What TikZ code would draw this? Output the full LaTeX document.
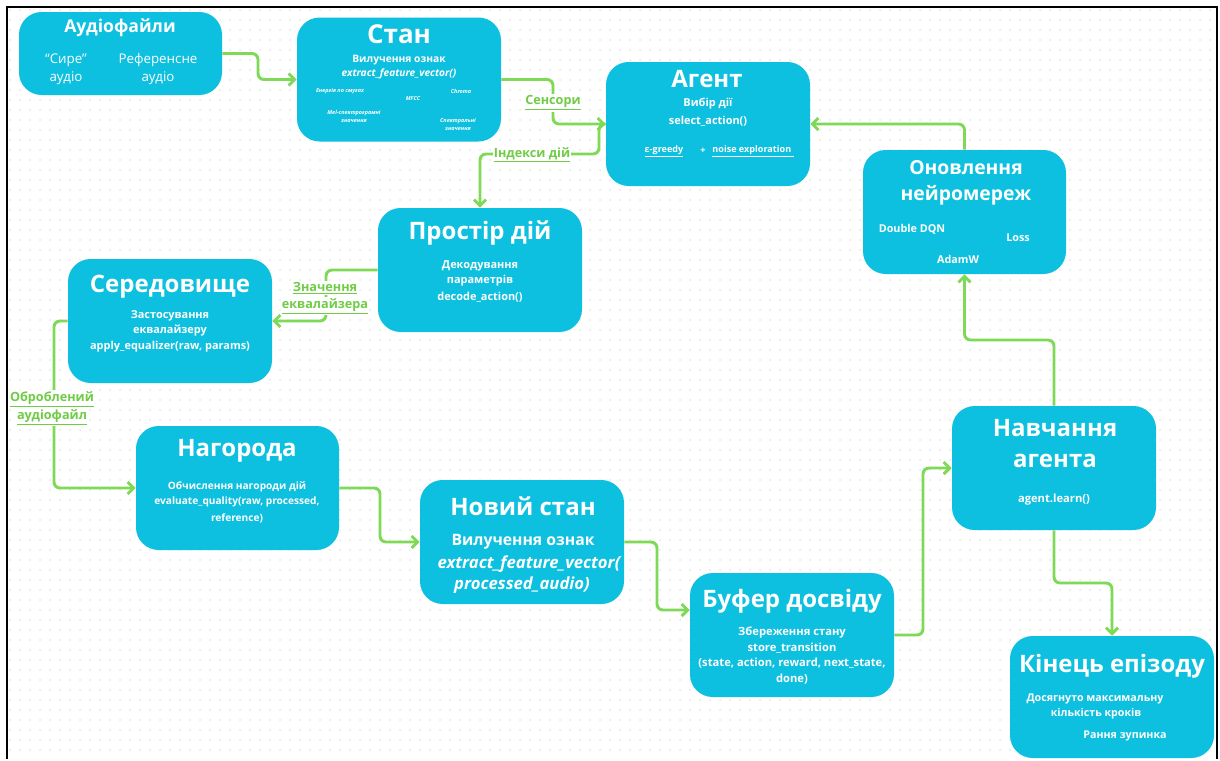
\documentclass[tikz,border=0pt]{standalone}
\usepackage{fontspec}
\setmainfont{Open Sans}
\usetikzlibrary{arrows.meta}
\definecolor{boxc}{RGB}{13,192,223}
\definecolor{linec}{RGB}{126,217,87}
\definecolor{labc}{RGB}{112,204,70}
\definecolor{dotc}{RGB}{222,222,222}
\begin{document}
\begin{tikzpicture}[x=0.75pt,y=-0.75pt,
  box/.style={fill=boxc, rounded corners=17pt, minimum width=153pt, minimum height=93pt, inner sep=0pt},
  ttl/.style={text=white, font=\bfseries\fontsize{18}{21}\selectfont, inner sep=0pt},
  body/.style={text=white, font=\bfseries\fontsize{8.2}{9}\selectfont, inner sep=0pt},
  tiny/.style={text=white, font=\bfseries\itshape\fontsize{4.1}{4.6}\selectfont, inner sep=0pt},
  conn/.style={draw=linec, line width=2.2pt, rounded corners=4.5pt, -{Straight Barb[length=4.5pt,width=9pt]}},
  lab/.style={text=labc, fill=white, font=\bfseries\fontsize{9.5}{11.5}\selectfont, inner sep=0.8pt},
  dotrow/.style={draw=dotc, line width=1.1pt, line cap=round, dash pattern=on 0.05pt off 7.45pt},
]
\useasboundingbox (0,0) rectangle (1220,760);
\fill[white] (0,0) rectangle (1220,760);
\foreach \j in {1,...,75}{\draw[dotrow] (10,\j*10) -- (1215,\j*10);}
\draw[line width=1.6pt] (7,759) -- (7,7) -- (1217,7) -- (1217,759);

% boxes
\node[box, minimum width=152.25pt, minimum height=62.25pt] (audio) at (120.5,53.5) {};
\node[box] (stan) at (399,79.5) {};
\node[box] (agent) at (708,124) {};
\node[box, minimum width=152.25pt] (update) at (964.5,212) {};
\node[box] (space) at (480,270) {};
\node[box] (env) at (170,321) {};
\node[box, minimum width=152.25pt] (reward) at (237.5,488) {};
\node[box] (newstate) at (522,542) {};
\node[box] (buffer) at (792,635) {};
\node[box] (learn) at (1054,468) {};
\node[box, minimum height=91.5pt] (end) at (1112,697) {};

% connectors
\path (buffer.west) ++(0,-25) coordinate (bufin);
\draw[conn] (audio.east) -- (258,53.5) |- (stan.west);
\draw[conn] (agent.west) -- (599,124) -- (599,154) -| (space.north);
\draw[conn] (stan.east) -- (553,79.5) |- (agent.west);
\draw[conn] (update.north) |- (agent.east);
\draw[conn] (learn.north) -- (1054,340) -| (update.south);
\draw[conn] (space.west) -- (326,270) |- (env.east);
\draw[conn] (env.west) -- (54,321) |- (reward.west);
\draw[conn] (reward.east) -- (380,488) |- (newstate.west);
\draw[conn] (newstate.east) -- (657,542) |- (bufin);
\draw[conn] (buffer.east) -- (923,635) |- (learn.west);
\draw[conn] (learn.south) -- (1054,583) -| (end.north);

% connector labels
\node[lab] (lsens) at (553,103) {\underline{Сенсори}};
\node[lab] (lidx) at (532,155) {\underline{Індекси дій}};
\node[lab] (leq1) at (325,288) {\underline{Значення}};
\node[lab] (leq2) at (325,306) {\underline{еквалайзера}};
\node[lab] (lob1) at (52,399) {\underline{Оброблений}};
\node[lab] (lob2) at (52,417) {\underline{аудіофайл}};

% Аудіофайли
\node[ttl, font=\bfseries\fontsize{13.2}{15}\selectfont] (t1) at (120,28) {Аудіофайли};
\node[text=white, font=\fontsize{10}{12}\selectfont, inner sep=0pt] (a1) at (66,60) {“Сире”};
\node[text=white, font=\fontsize{10}{12}\selectfont, inner sep=0pt] (a2) at (66,78) {аудіо};
\node[text=white, font=\fontsize{10}{12}\selectfont, inner sep=0pt] (a3) at (158,60) {Референсне};
\node[text=white, font=\fontsize{10}{12}\selectfont, inner sep=0pt] (a4) at (158,78) {аудіо};

% Стан
\node[ttl, font=\bfseries\fontsize{19.5}{22}\selectfont] (t2) at (399,34) {Стан};
\node[body, font=\bfseries\fontsize{7.7}{8}\selectfont] (s1) at (399,60) {Вилучення ознак};
\node[body, font=\bfseries\itshape\fontsize{7.6}{8}\selectfont] (s2) at (399,74) {extract\_feature\_vector()};
\node[tiny] (s3) at (340,91) {Енергія по смугах};
\node[tiny] (s4) at (413,99) {MFCC};
\node[tiny] (s5) at (461,91) {Chroma};
\node[tiny] (s6) at (354,113) {Mel-спектрограмні};
\node[tiny] (s7) at (354,121) {значення};
\node[tiny] (s8) at (458,121) {Спектральні};
\node[tiny] (s9) at (458,129) {значення};

% Агент
\node[ttl] (t3) at (707,79) {Агент};
\node[body] (g1) at (708,104) {Вибір дії};
\node[body] (g2) at (708,121) {select\_action()};
\node[body, font=\bfseries\fontsize{6.8}{7}\selectfont] (g3) at (664,151) {\underline{ε-greedy}};
\node[body, font=\bfseries\fontsize{6.8}{7}\selectfont] (g4) at (703,151) {+};
\node[body, font=\bfseries\fontsize{6.8}{7}\selectfont] (g5) at (753,151) {\underline{noise exploration\ }};

% Оновлення нейромереж
\node[ttl, font=\bfseries\fontsize{14.5}{17}\selectfont] (t4a) at (966,168) {Оновлення};
\node[ttl, font=\bfseries\fontsize{14.5}{17}\selectfont] (t4b) at (966,195) {нейромереж};
\node[body, font=\bfseries\fontsize{8.1}{9}\selectfont] (u1) at (912,229) {Double DQN};
\node[body, font=\bfseries\fontsize{8.1}{9}\selectfont] (u2) at (1018,238) {Loss};
\node[body, font=\bfseries\fontsize{8.1}{9}\selectfont] (u3) at (958,259) {AdamW};

% Простір дій
\node[ttl] (t5) at (480,233) {Простір дій};
\node[body] (p1) at (480,266) {Декодування};
\node[body] (p2) at (480,281) {параметрів};
\node[body] (p3) at (480,297) {decode\_action()};

% Середовище
\node[ttl] (t6) at (170,287) {Середовище};
\node[body] (e1) at (170,316) {Застосування};
\node[body] (e2) at (170,331) {еквалайзеру};
\node[body] (e3) at (170,347) {apply\_equalizer(raw, params)};

% Нагорода
\node[ttl] (t7) at (237,451) {Нагорода};
\node[body, font=\bfseries\fontsize{7.6}{9}\selectfont] (r1) at (237,487) {Обчислення нагороди дій};
\node[body, font=\bfseries\fontsize{7.6}{9}\selectfont] (r2) at (237,502) {evaluate\_quality(raw, processed,};
\node[body, font=\bfseries\fontsize{7.6}{9}\selectfont] (r3) at (237,518) {reference)};

% Новий стан
\node[ttl] (t8) at (523,506) {Новий стан};
\node[body, font=\bfseries\fontsize{11.8}{13}\selectfont] (n1) at (523,542) {Вилучення ознак};
\node[body, font=\bfseries\itshape\fontsize{12.5}{13}\selectfont] (n2) at (529,564) {extract\_feature\_vector(};
\node[body, font=\bfseries\itshape\fontsize{12.5}{13}\selectfont] (n3) at (522,585) {processed\_audio)};

% Буфер досвіду
\node[ttl] (t9) at (792,601) {Буфер досвіду};
\node[body, font=\bfseries\fontsize{8.4}{9}\selectfont] (b1) at (792,633) {Збереження стану};
\node[body, font=\bfseries\fontsize{8.4}{9}\selectfont] (b2) at (792,648) {store\_transition};
\node[body, font=\bfseries\fontsize{8.4}{9}\selectfont] (b3) at (792,663) {(state, action, reward, next\_state,};
\node[body, font=\bfseries\fontsize{8.4}{9}\selectfont] (b4) at (792,679) {done)};

% Навчання агента
\node[ttl] (t10a) at (1055,428) {Навчання};
\node[ttl] (t10b) at (1055,461) {агента};
\node[body, font=\bfseries\fontsize{8.4}{9}\selectfont] (l1) at (1054,500) {agent.learn()};

% Кінець епізоду
\node[ttl] (t11) at (1112,666) {Кінець епізоду};
\node[body, font=\bfseries\fontsize{8}{9}\selectfont] (k1) at (1095,699) {Досягнуто максимальну};
\node[body, font=\bfseries\fontsize{8}{9}\selectfont] (k2) at (1096,714) {кількість кроків};
\node[body, font=\bfseries\fontsize{8}{9}\selectfont] (k3) at (1125,736) {Рання зупинка};
\end{tikzpicture}
\end{document}
